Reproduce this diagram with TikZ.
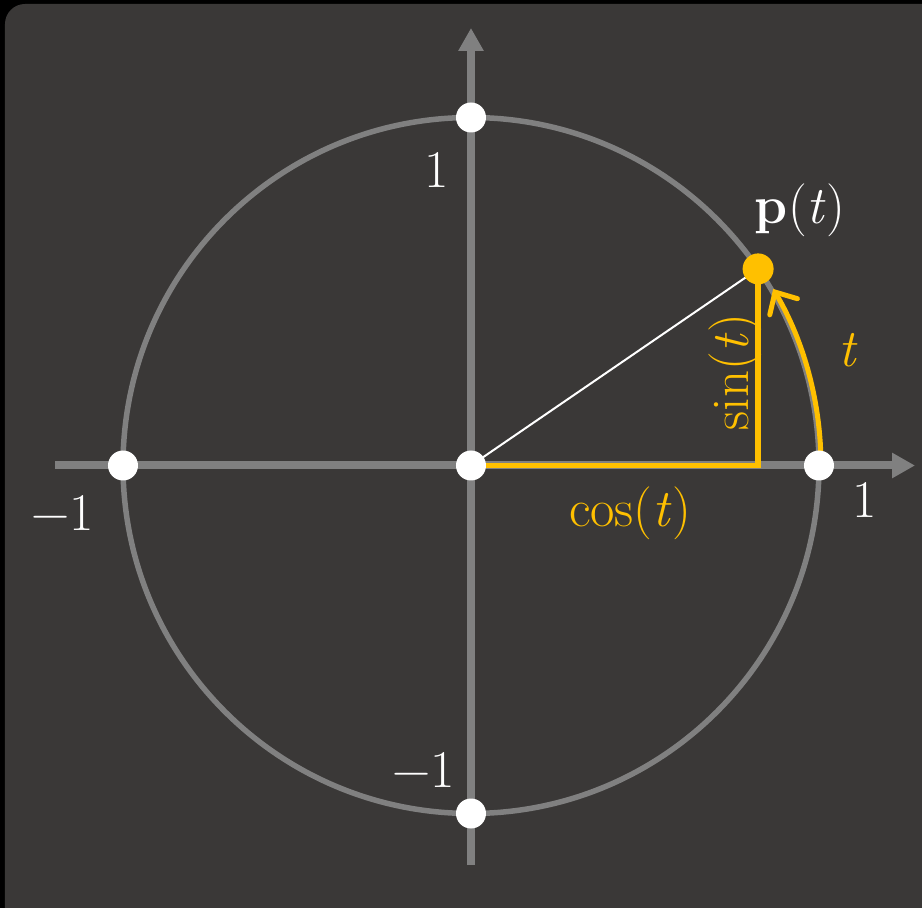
\documentclass[tikz,border=0pt]{standalone}
\usetikzlibrary{arrows.meta}
\definecolor{bgdark}{RGB}{58,56,55}
\definecolor{axisgray}{RGB}{128,128,128}
\definecolor{gold}{RGB}{255,192,0}
\newcommand{\mymin}{\symbol{"2212}}
\begin{document}
\begin{tikzpicture}[x=1pt,y=1pt,
  axis/.style={draw=axisgray,line width=8pt,-{Triangle[length=23pt,width=24pt]}},
  circ/.style={draw=axisgray,line width=5.5pt},
  dot/.style={circle,fill=white,inner sep=0pt,minimum size=30pt},
  pdot/.style={circle,fill=gold,inner sep=0pt,minimum size=31pt},
  lbl/.style={text=white,font=\fontsize{53}{60}\selectfont,inner sep=0pt},
  olbl/.style={text=gold,font=\fontsize{53}{60}\selectfont,inner sep=0pt},
  gline/.style={draw=gold,line width=5.5pt}]
\useasboundingbox (-471,-442.5) rectangle (451,465.5);
\clip (-471,-442.5) rectangle (451,465.5);
\fill[black] (-471,-442.5) rectangle (451,465.5);
\fill[bgdark,rounded corners=20pt] (-466,-500) rectangle (500,461.5);
% coordinates
\coordinate (O) at (0,0);
\coordinate (E) at (348,0);
\coordinate (W) at (-348,0);
\coordinate (N) at (0,348);
\coordinate (S) at (0,-348);
\coordinate (P) at (34.4:348);
\coordinate (F) at (P |- O);
\coordinate (XL) at (-416,0);
\coordinate (XR) at (444,0);
\coordinate (YB) at (0,-399.5);
\coordinate (YT) at (0,437.5);
\coordinate (A0) at (350,0);
% circle and axes
\draw[circ] (O) circle[radius=348];
\draw[axis] (XL) -- (XR);
\draw[axis] (YB) -- (YT);
% radius
\draw[white,line width=2pt] (O) -- (P);
% cos and sin
\draw[gline,line join=miter] (O) -- (F) -- (P);
% arc t
\draw[gold,line width=5pt,-{Straight Barb[length=17pt,width=32pt,line cap=round]}] (A0) arc[start angle=0,end angle=30.3,radius=350];
% dots
\node[dot] (dO) at (O) {};
\node[dot] (dE) at (E) {};
\node[dot] (dW) at (W) {};
\node[dot] (dN) at (N) {};
\node[dot] (dS) at (S) {};
\node[pdot] (dP) at (P) {};
% labels
\node[lbl] (l1) at (-34,295.5) {1};
\node[lbl] (lm1b) at (-47,-304.5) {\mymin1};
\node[lbl] (lm1l) at (-408,-47.5) {\mymin1};
\node[lbl] (l1r) at (394,-34.5) {1};
\node[olbl] (lcos) at (159,-47.5) {cos(\textit{t})};
\node[olbl,rotate=90] (lsin) at (264,93.5) {sin(\textit{t})};
\node[olbl] (lt) at (377,115.5) {\textit{t}};
\node[lbl] (lp) at (329,255.5) {\textbf{p}(\textit{t})};
\end{tikzpicture}
\end{document}
